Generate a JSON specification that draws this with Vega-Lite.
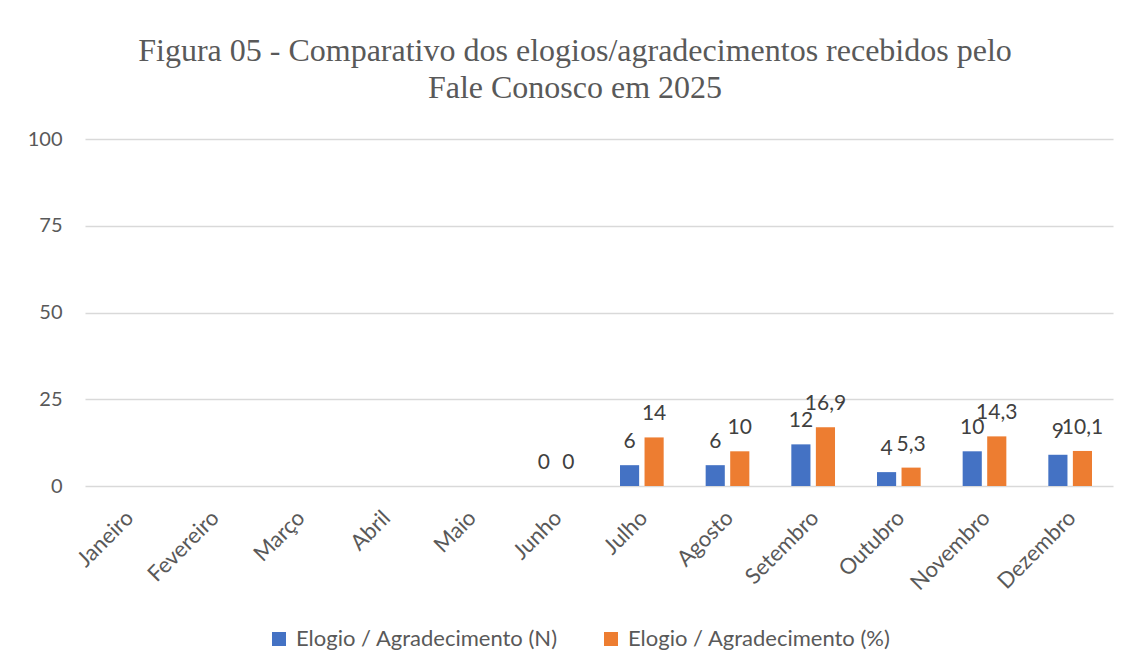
{
  "$schema": "https://vega.github.io/schema/vega-lite/v6.json",
  "autosize": "none",
  "width": 1028,
  "height": 347,
  "padding": {"left": 85, "top": 139, "right": 19, "bottom": 180},
  "background": "white",
  "config": {
    "view": {"stroke": null},
    "font": "Lato",
    "axis": {"labelFont": "Lato", "labelColor": "#595959", "labelFontSize": 20}
  },
  "title": {
    "text": ["Figura 05 - Comparativo dos elogios/agradecimentos recebidos pelo", "Fale Conosco em 2025"],
    "font": "Liberation Serif",
    "fontSize": 32,
    "fontWeight": "normal",
    "color": "#595959",
    "anchor": "middle",
    "frame": "group",
    "dx": -24,
    "offset": 24,
    "lineHeight": 37
  },
  "data": {
    "values": [
      {"mes": "Junho", "serie": "Elogio / Agradecimento (N)", "valor": 0, "rotulo": "0"},
      {"mes": "Junho", "serie": "Elogio / Agradecimento (%)", "valor": 0, "rotulo": "0"},
      {"mes": "Julho", "serie": "Elogio / Agradecimento (N)", "valor": 6, "rotulo": "6"},
      {"mes": "Julho", "serie": "Elogio / Agradecimento (%)", "valor": 14, "rotulo": "14"},
      {"mes": "Agosto", "serie": "Elogio / Agradecimento (N)", "valor": 6, "rotulo": "6"},
      {"mes": "Agosto", "serie": "Elogio / Agradecimento (%)", "valor": 10, "rotulo": "10"},
      {"mes": "Setembro", "serie": "Elogio / Agradecimento (N)", "valor": 12, "rotulo": "12"},
      {"mes": "Setembro", "serie": "Elogio / Agradecimento (%)", "valor": 16.9, "rotulo": "16,9"},
      {"mes": "Outubro", "serie": "Elogio / Agradecimento (N)", "valor": 4, "rotulo": "4"},
      {"mes": "Outubro", "serie": "Elogio / Agradecimento (%)", "valor": 5.3, "rotulo": "5,3"},
      {"mes": "Novembro", "serie": "Elogio / Agradecimento (N)", "valor": 10, "rotulo": "10"},
      {"mes": "Novembro", "serie": "Elogio / Agradecimento (%)", "valor": 14.3, "rotulo": "14,3"},
      {"mes": "Dezembro", "serie": "Elogio / Agradecimento (N)", "valor": 9, "rotulo": "9"},
      {"mes": "Dezembro", "serie": "Elogio / Agradecimento (%)", "valor": 10.1, "rotulo": "10,1"}
    ]
  },
  "encoding": {
    "x": {
      "field": "mes", "type": "nominal", "title": null,
      "scale": {
        "domain": ["Janeiro", "Fevereiro", "Março", "Abril", "Maio", "Junho", "Julho", "Agosto", "Setembro", "Outubro", "Novembro", "Dezembro"],
        "paddingInner": 0.49, "paddingOuter": 0.245
      },
      "axis": {"labelAngle": -45, "labelAlign": "right", "labelBaseline": "middle", "ticks": false, "domain": false, "labelPadding": 28, "labelOffset": 2, "labelFontSize": 22}
    },
    "xOffset": {
      "field": "serie", "type": "nominal",
      "scale": {"domain": ["Elogio / Agradecimento (N)", "Elogio / Agradecimento (%)"], "paddingInner": 0.22, "paddingOuter": 0}
    },
    "y": {
      "field": "valor", "type": "quantitative", "title": null,
      "scale": {"domain": [0, 100], "nice": false},
      "axis": {"values": [0, 25, 50, 75, 100], "domain": false, "ticks": false, "gridColor": "#d9d9d9", "gridWidth": 1.3, "labelPadding": 23}
    }
  },
  "layer": [
    {
      "mark": {"type": "bar"},
      "encoding": {
        "color": {
          "field": "serie", "type": "nominal",
          "scale": {"domain": ["Elogio / Agradecimento (N)", "Elogio / Agradecimento (%)"], "range": ["#4472C4", "#ED7D31"]},
          "legend": {
            "title": null, "orient": "none", "direction": "horizontal",
            "legendX": 183, "legendY": 489,
            "symbolType": "square", "symbolSize": 196, "symbolStrokeWidth": 0,
            "labelFontSize": 22, "labelColor": "#595959", "labelFont": "Lato", "labelLimit": 0,
            "columnPadding": 42, "labelOffset": 6
          }
        }
      }
    },
    {
      "mark": {"type": "text", "baseline": "alphabetic", "dy": -17, "fontSize": 21, "color": "#404040", "font": "Lato"},
      "encoding": {"text": {"field": "rotulo"}}
    }
  ]
}
